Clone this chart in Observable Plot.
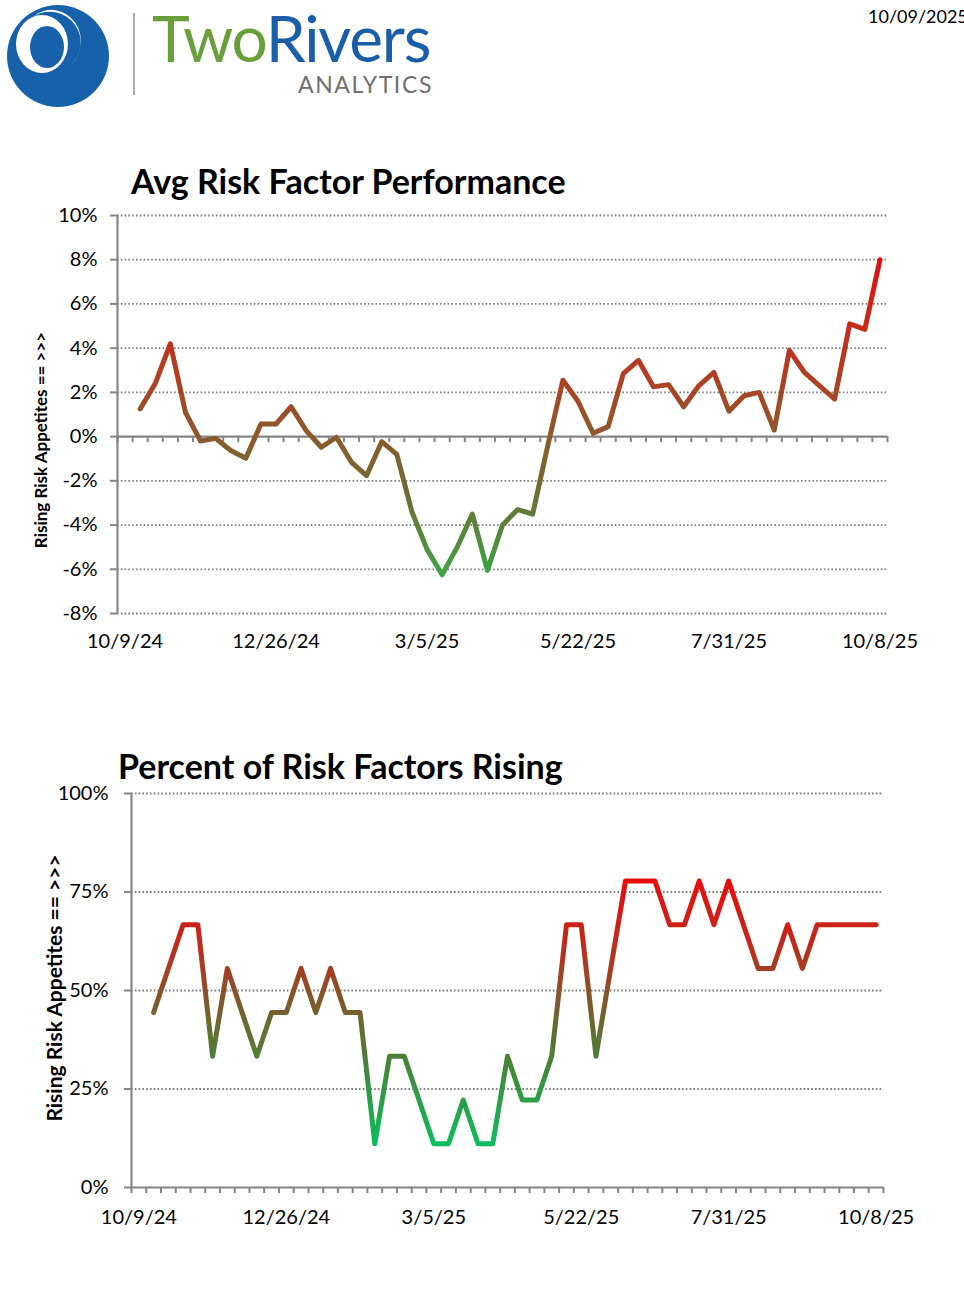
<!DOCTYPE html>
<html><head><meta charset="utf-8">
<script src="https://cdn.jsdelivr.net/npm/d3@7"></script>
<script src="https://cdn.jsdelivr.net/npm/@observablehq/plot@0.6"></script>
<style>
body{margin:0;background:#fff;}
#page{position:relative;width:964px;height:1295px;overflow:hidden;font-family:Lato,sans-serif;background:#fff;}
.abs{position:absolute;}
.title{font-weight:bold;font-size:34px;color:#000;white-space:nowrap;line-height:1;}
.ylab{font-weight:bold;white-space:nowrap;color:#000;transform:translate(-50%,-50%) rotate(-90deg);line-height:1;}
</style></head><body>
<div id="page">
  <svg class="abs" style="left:0;top:0" width="460" height="112" viewBox="0 0 460 112">
    <circle cx="58" cy="56" r="51" fill="#1761ab"/>
    <ellipse cx="42" cy="44" rx="26" ry="29" fill="#fff"/>
    <ellipse cx="47" cy="47" rx="17" ry="21" fill="#1761ab"/>
    <path d="M34 16 A31 31 0 0 1 69 67 A27 29 0 0 0 34 16 Z" fill="#fff"/>
    <line x1="134" y1="13" x2="134" y2="95" stroke="#9a9a9a" stroke-width="1.6"/>
    <text x="152" y="62" font-family="Lato" font-size="64" letter-spacing="-1.2" fill="#6a9e3a">Two<tspan fill="#1a5ea8">Rivers</tspan></text>
    <text x="298" y="93" font-family="Lato" font-size="23" letter-spacing="1.6" fill="#6f6f6f">ANALYTICS</text>
  </svg>
  <div class="abs" style="left:868px;top:5px;font-size:18px;white-space:nowrap;font-family:Lato">10/09/2025</div>

  <div class="abs title" style="left:131px;top:164px">Avg Risk Factor Performance</div>
  <div class="abs ylab" style="left:40px;top:440px;font-size:17px">Rising Risk Appetites == &gt;&gt;&gt;</div>
  <div class="abs" id="chart1" style="left:0;top:200px"></div>

  <div class="abs title" style="left:118px;top:749px">Percent of Risk Factors Rising</div>
  <div class="abs ylab" style="left:53px;top:988px;font-size:21px">Rising Risk Appetites == &gt;&gt;&gt;</div>
  <div class="abs" id="chart2" style="left:0;top:775px"></div>
</div>
<script>
// 51 weekly categories (index 0 = 10/9/24 ... index 50 = 10/8/25); index 0 has no value
const tickIndex = [0, 10, 20, 30, 40, 50];
const tickLabels = ["10/9/24", "12/26/24", "3/5/25", "5/22/25", "7/31/25", "10/8/25"];
const categoryCount = 51;

// Avg Risk Factor Performance (%)
const avgPerformance = [null,
  1.25, 2.4, 4.2, 1.1, -0.2, -0.08, -0.63, -0.98, 0.57, 0.57,
  1.35, 0.27, -0.48, -0.03, -1.16, -1.76, -0.23, -0.8, -3.4, -5.1,
  -6.25, -5.0, -3.5, -6.05, -4.0, -3.3, -3.5, -0.4, 2.55, 1.6,
  0.15, 0.45, 2.85, 3.45, 2.25, 2.35, 1.35, 2.3, 2.9, 1.15,
  1.85, 2.0, 0.3, 3.9, 2.9, 2.3, 1.7, 5.1, 4.85, 8.0];

// Percent of Risk Factors Rising (%)
const pctRising = [null,
  44.4, 55.6, 66.7, 66.7, 33.3, 55.6, 44.4, 33.3, 44.4, 44.4,
  55.6, 44.4, 55.6, 44.4, 44.4, 11.1, 33.3, 33.3, 22.2, 11.1,
  11.1, 22.2, 11.1, 11.1, 33.3, 22.2, 22.2, 33.3, 66.7, 66.7,
  33.3, 55.6, 77.8, 77.8, 77.8, 66.7, 66.7, 77.8, 66.7, 77.8,
  66.7, 55.6, 55.6, 66.7, 55.6, 66.7, 66.7, 66.7, 66.7, 66.7];

const yTicks1 = [-8, -6, -4, -2, 0, 2, 4, 6, 8, 10];
const yTicks2 = [0, 25, 50, 75, 100];

const grad1 = [{v: 8, c: "#dc1212"}, {v: 3, c: "#b43c22"}, {v: 0, c: "#8b5a2c"}, {v: -2.5, c: "#6e6c32"}, {v: -6.3, c: "#3da447"}];
const grad2 = [{v: 78, c: "#e80c0c"}, {v: 62, c: "#c02a1c"}, {v: 44, c: "#72622e"}, {v: 30, c: "#42883a"}, {v: 11, c: "#0cbd5c"}];

const labelMap = new Map(tickIndex.map((d, i) => [d + 0.5, tickLabels[i]]));
const boundaries = d3.range(categoryCount + 1);
const AX = "#858585";
const GRID = "#7c7c7c";

function rows(values) {
  return values.map((v, i) => ({i, v})).filter(d => d.v != null);
}

function addGradient(svg, id, stops) {
  const y = svg.scale("y");
  const ns = "http://www.w3.org/2000/svg";
  const defs = document.createElementNS(ns, "defs");
  const lg = document.createElementNS(ns, "linearGradient");
  lg.setAttribute("id", id);
  lg.setAttribute("gradientUnits", "userSpaceOnUse");
  const y1 = y.apply(stops[0].v), y2 = y.apply(stops[stops.length - 1].v);
  lg.setAttribute("x1", 0); lg.setAttribute("x2", 0);
  lg.setAttribute("y1", y1); lg.setAttribute("y2", y2);
  for (const s of stops) {
    const st = document.createElementNS(ns, "stop");
    st.setAttribute("offset", (y.apply(s.v) - y1) / (y2 - y1));
    st.setAttribute("stop-color", s.c);
    lg.appendChild(st);
  }
  defs.appendChild(lg);
  svg.insertBefore(defs, svg.firstChild);
}

const baseStyle = {fontFamily: "Lato, sans-serif", fontSize: "20px", color: "#000", background: "transparent", overflow: "visible"};

const p1 = Plot.plot({
  width: 964, height: 460,
  marginLeft: 117, marginRight: 77, marginTop: 15, marginBottom: 47,
  style: baseStyle,
  x: {type: "linear", domain: [0, categoryCount]},
  y: {domain: [-8, 10]},
  marks: [
    Plot.ruleY(yTicks1.filter(d => d !== 0), {stroke: GRID, strokeWidth: 1.8, strokeDasharray: "1.6,2.2"}),
    Plot.axisY({ticks: yTicks1, tickFormat: d => d + "%", tickSize: 7, tickPadding: 13, stroke: AX, strokeWidth: 2, label: null}),
    Plot.axisX({ticks: [...labelMap.keys()], tickFormat: d => labelMap.get(d), tickSize: 0, tickPadding: 20, label: null}),
    Plot.ruleX([0], {stroke: AX, strokeWidth: 2.2}),
    Plot.ruleY([0], {stroke: AX, strokeWidth: 2.2}),
    Plot.ruleX(boundaries, {x: d => d, y1: 0, y2: 0, insetTop: 0, insetBottom: -6, stroke: AX, strokeWidth: 2}),
    Plot.line(rows(avgPerformance), {x: d => d.i + 0.5, y: "v", stroke: "url(#g1)", strokeWidth: 5, strokeLinejoin: "round", strokeLinecap: "round"})
  ]
});
addGradient(p1, "g1", grad1);
document.getElementById("chart1").appendChild(p1);

const p2 = Plot.plot({
  width: 964, height: 467,
  marginLeft: 131, marginRight: 81, marginTop: 18, marginBottom: 55,
  style: baseStyle,
  x: {type: "linear", domain: [0, categoryCount]},
  y: {domain: [0, 100]},
  marks: [
    Plot.ruleY(yTicks2.filter(d => d !== 0), {stroke: GRID, strokeWidth: 1.8, strokeDasharray: "1.6,2.2"}),
    Plot.axisY({ticks: yTicks2, tickFormat: d => d + "%", tickSize: 7, tickPadding: 16, stroke: AX, strokeWidth: 2, label: null}),
    Plot.axisX({ticks: [...labelMap.keys()], tickFormat: d => labelMap.get(d), tickSize: 0, tickPadding: 22, label: null}),
    Plot.ruleX([0], {stroke: AX, strokeWidth: 2.2}),
    Plot.ruleY([0], {stroke: AX, strokeWidth: 2.2}),
    Plot.ruleX(boundaries, {x: d => d, y1: 0, y2: 0, insetTop: 0, insetBottom: -6, stroke: AX, strokeWidth: 2}),
    Plot.line(rows(pctRising), {x: d => d.i + 0.5, y: "v", stroke: "url(#g2)", strokeWidth: 5, strokeLinejoin: "round", strokeLinecap: "round"})
  ]
});
addGradient(p2, "g2", grad2);
document.getElementById("chart2").appendChild(p2);
</script>
</body></html>
